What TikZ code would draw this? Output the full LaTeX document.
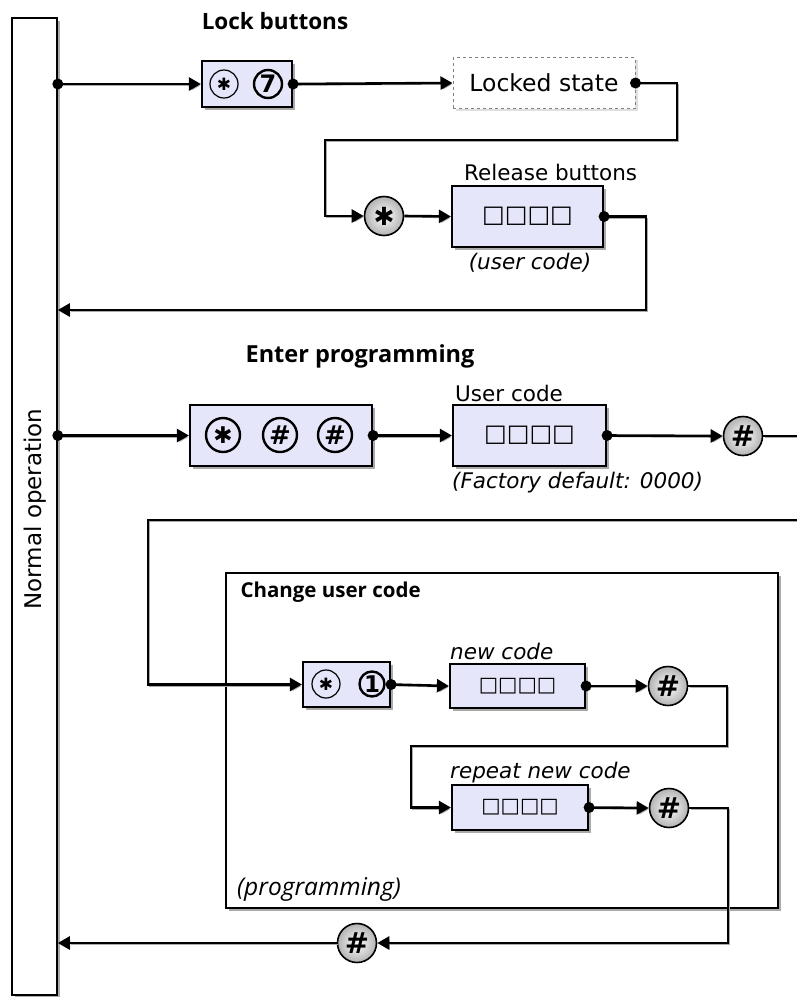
\documentclass[tikz,border=0pt]{standalone}
\usepackage{fontspec}
\setmainfont{DejaVu Sans}
\newfontfamily\headfont{Open Sans}
\usetikzlibrary{arrows.meta,shadows}
\definecolor{keyfill}{RGB}{230,230,250}
\definecolor{shadowgray}{RGB}{170,170,170}
\newcommand{\lblsize}{\fontsize{21.5}{25}\selectfont}
\newcommand{\headsize}{\fontsize{22.5}{26}\selectfont}
\newcommand{\pins}{\fontsize{24}{28}\selectfont\char"25A1\char"25A1\char"25A1\char"25A1}
\newcommand{\smallpins}{\fontsize{20.5}{24}\selectfont\char"25A1\char"25A1\char"25A1\char"25A1}
\newcommand{\starglyph}{\char"2731}

\tikzset{
  wire/.style={line width=2.6pt, -{Triangle[length=12pt,width=13pt]},
    preaction={draw=shadowgray, transform canvas={shift={(1.5pt,-1.5pt)}}}},
  boxshadow/.style={drop shadow={shadow xshift=3pt,shadow yshift=-3pt,fill=shadowgray,opacity=1}},
  bar/.style={draw, line width=1.6pt, fill=white, boxshadow},
  keybox/.style={draw, line width=2.2pt, fill=keyfill, inner sep=0pt, boxshadow},
  statebox/.style={draw=gray, dashed, line width=1pt, fill=white, inner sep=0pt,
    drop shadow={shadow xshift=2.5pt,shadow yshift=-2.5pt,fill=gray!25,opacity=1}},
  frame/.style={draw, line width=2.2pt, fill=white, boxshadow},
  thinkey/.style={circle, draw, line width=1.2pt, inner sep=0pt, minimum size=28pt,
    font=\fontsize{17}{17}\selectfont},
  boldkey/.style={circle, draw, line width=2.4pt, inner sep=0pt, minimum size=28pt,
    font=\bfseries\fontsize{26}{26}\selectfont},
  btn/.style={circle, draw, line width=1.6pt, inner sep=0pt, minimum size=39pt,
    shading=radial, inner color=white, outer color=gray!60,
    font=\bfseries\fontsize{29}{29}\selectfont},
  heading/.style={font=\headfont\bfseries\headsize},
  lbl/.style={font=\lblsize, inner sep=0pt},
  note/.style={font=\itshape\lblsize, inner sep=0pt},
  dot/.style={fill=black}
}

\begin{document}
\begin{tikzpicture}[x=1pt,y=-1pt]
\clip (0,0) rectangle (797,997);
% Normal operation bar
\node[bar, minimum width=45pt, minimum height=977pt] (normal) at (34.5,506.5) {};
\node[rotate=90, font=\fontsize{23}{27}\selectfont] (normaltxt) at (35,509) {Normal operation};
% Change user code frame
\node[frame, minimum width=552pt, minimum height=335pt] (changeframe) at (502,740.5) {};

% Lock buttons
\node[heading] (lockhead) at (275,21) {Lock buttons};
\node[keybox, minimum width=90pt, minimum height=46pt] (lockkeys) at (247,84) {};
\node[thinkey] (lockstar) at (224,84) {\starglyph};
\node[boldkey, font=\bfseries\fontsize{24}{24}\selectfont] (lockseven) at (268,84) {7};
\node[statebox, minimum width=182pt, minimum height=51pt, font=\fontsize{23.5}{27}\selectfont] (locked) at (544,83) {Locked state};
\node[btn, font=\bfseries\fontsize{25}{25}\selectfont] (releasestar) at (384,216) {\starglyph};
\node[keybox, minimum width=151pt, minimum height=61pt] (release) at (527.5,216.5) {\pins};
\node[lbl, anchor=west] (releaselbl) at (464,172) {Release buttons};
\node[note] (releasenote) at (530,263) {(user code)};

% Enter programming
\node[heading, font=\headfont\bfseries\fontsize{23.5}{27}\selectfont] (enterhead) at (360,356) {Enter programming};
\node[keybox, minimum width=182pt, minimum height=61pt] (enterkeys) at (281,435.5) {};
\node[boldkey, minimum size=34pt, font=\bfseries\fontsize{23}{23}\selectfont] (enterstar) at (223,435) {\starglyph};
\node[boldkey, minimum size=34pt] (enterhashA) at (280,435) {\#};
\node[boldkey, minimum size=34pt] (enterhashB) at (335,435) {\#};
\node[keybox, minimum width=153pt, minimum height=61pt] (usercode) at (529.5,435.5) {\pins};
\node[lbl, anchor=west] (usercodelbl) at (455,393) {User code};
\node[note, anchor=west] (factorynote) at (452,483) {(Factory default: 0000)};
\node[btn] (enterhash) at (743,436) {\#};

% Change user code
\node[heading, anchor=west, font=\headfont\bfseries\fontsize{20.5}{24}\selectfont] (changehead) at (237,592) {Change user code};
\node[keybox, minimum width=87pt, minimum height=45pt] (changekeys) at (346.5,684.5) {};
\node[thinkey] (changestar) at (326,684) {\starglyph};
\node[boldkey, minimum size=25pt, font=\bfseries\fontsize{23}{23}\selectfont] (changeone) at (372,684) {1};
\node[keybox, minimum width=135pt, minimum height=44pt] (newcode) at (517.5,686) {\smallpins};
\node[note, anchor=west] (newcodelbl) at (450,651) {new code};
\node[btn] (newhash) at (668,686) {\#};
\node[keybox, minimum width=136pt, minimum height=45pt] (repeatcode) at (520,807.5) {\smallpins};
\node[note, anchor=west] (repeatlbl) at (450,773) {repeat new code};
\node[btn] (repeathash) at (669,808) {\#};
\node[font=\headfont\itshape\fontsize{24.5}{28}\selectfont, anchor=west, inner sep=0pt] (progmode) at (237,889) {(programming)};
\node[btn] (donehash) at (357,943) {\#};

% Connectors
\draw[wire] (lockkeys.west -| normal.east) -- (lockkeys.west);
\draw[wire] (lockkeys.east) -- (locked.west);
\draw[wire] (locked.east) -- (677,83) -- (677,140) -- (325,140) |- (releasestar.west);
\draw[wire] (releasestar.east) -- (release.west);
\draw[wire] (release.east) -- (646,216.5) -- (646,310) -- (normal.east |- 646,310);
\draw[wire] (enterkeys.west -| normal.east) -- (enterkeys.west);
\draw[wire] (enterkeys.east) -- (usercode.west);
\draw[wire] (usercode.east) -- (enterhash.west);
\draw[wire] (enterhash.east) -- (815,436) -- (815,520) -- (148,520) |- (changekeys.west);
\draw[wire] (changekeys.east) -- (newcode.west);
\draw[wire] (newcode.east) -- (newhash.west);
\draw[wire] (newhash.east) -- (727,686) -- (727,746) -- (411,746) |- (repeatcode.west);
\draw[wire] (repeatcode.east) -- (repeathash.west);
\draw[wire] (repeathash.east) -- (728,808) |- (donehash.east);
\draw[wire] (donehash.west) -- (donehash.west -| normal.east);

% Start dots
\foreach \p in {lockkeys.west -| normal.east, lockkeys.east, locked.east, release.east,
  enterkeys.west -| normal.east, enterkeys.east, usercode.east,
  changekeys.east, newcode.east, repeatcode.east}
  \fill[dot] (\p) circle (5.5pt);
\end{tikzpicture}
\end{document}
